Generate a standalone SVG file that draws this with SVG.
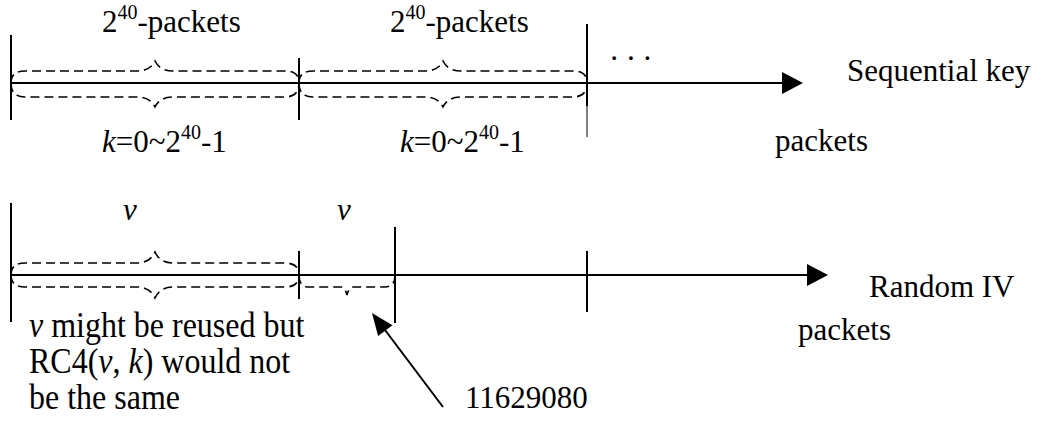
<svg xmlns="http://www.w3.org/2000/svg" width="1041" height="421" viewBox="0 0 1041 421">
<style>
  text { font-size: 31px; fill: #000; }
  .i { font-style: italic; }
  .sup { font-size: 20px; }
  .note { font-size: 32px; }
  .ax { stroke: #000; stroke-width: 2; fill: none; }
  .tk { stroke: #000; stroke-width: 2; fill: none; }
  .br { stroke: #000; stroke-width: 1.6; fill: none; stroke-dasharray: 9 5; }
  .ah { fill: #000; stroke: none; }
</style>
<rect width="1041" height="421" fill="#fff"/>

<g id="connectors">
  <line class="ax" x1="11" y1="83" x2="784" y2="83"/>
  <polygon class="ah" points="782,72 803,83 782,94"/>
  <line class="ax" x1="11" y1="275" x2="809" y2="275"/>
  <polygon class="ah" points="807,264 828,275 807,286"/>
  <line class="ax" x1="443" y1="407" x2="382" y2="326"/>
  <polygon class="ah" points="372,313 392.5,325.2 378.1,336"/>
</g>

<g id="top-ticks">
  <line class="tk" x1="11" y1="35" x2="11" y2="120"/>
  <line class="tk" x1="299" y1="58" x2="299" y2="120"/>
  <line class="tk" x1="587" y1="24" x2="587" y2="106"/>
  <line stroke="#000" stroke-width="1" x1="587" y1="106" x2="587" y2="137"/>
</g>

<g id="top-braces">
  <path class="br" d="M11,83 Q11,71 25,71 L137,71 Q150,71 155,61 Q160,71 173,71 L285,71 Q299,71 299,83"/>
  <path class="br" d="M11,83 Q11,97 25,97 L137,97 Q150,97 155,107 Q160,97 173,97 L285,97 Q299,97 299,83"/>
  <path class="br" d="M299,83 Q299,71 313,71 L425,71 Q438,71 443,61 Q448,71 461,71 L573,71 Q587,71 587,83"/>
  <path class="br" d="M299,83 Q299,97 313,97 L425,97 Q438,97 443,107 Q448,97 461,97 L573,97 Q587,97 587,83"/>
</g>

<g font-family="'Liberation Serif', Tinos, 'Times New Roman', 'DejaVu Serif', serif">
<g id="top-labels">
  <text x="102" y="32">2<tspan class="sup" dy="-13">40</tspan><tspan dy="13">-packets</tspan></text>
  <text x="390" y="32">2<tspan class="sup" dy="-13">40</tspan><tspan dy="13">-packets</tspan></text>
  <text x="102" y="152"><tspan class="i">k</tspan>=0~2<tspan class="sup" dy="-13">40</tspan><tspan dy="13">-1</tspan></text>
  <text x="400" y="152"><tspan class="i">k</tspan>=0~2<tspan class="sup" dy="-13">40</tspan><tspan dy="13">-1</tspan></text>
  <text x="609" y="69" letter-spacing="-0.7">· · ·</text>
  <text x="847" y="81">Sequential key</text>
  <text x="775" y="151">packets</text>
</g>
</g>

<g id="bottom-ticks">
  <line class="tk" x1="11" y1="203" x2="11" y2="322"/>
  <line class="tk" x1="299" y1="251" x2="299" y2="299"/>
  <line class="tk" x1="395" y1="227" x2="395" y2="323"/>
  <line class="tk" x1="587" y1="251" x2="587" y2="312"/>
</g>

<g id="bottom-braces">
  <path class="br" d="M11,275 Q11,263 25,263 L137,263 Q150,263 155,252 Q160,263 173,263 L285,263 Q299,263 299,275"/>
  <path class="br" d="M11,275 Q11,287 25,287 L137,287 Q150,287 155,298 Q160,287 173,287 L285,287 Q299,287 299,275"/>
  <path class="br" d="M299,275 Q299,287 309,287 L341,287 Q345,287 347,295 Q349,287 353,287 L385,287 Q395,287 395,275"/>
</g>

<g font-family="'Liberation Serif', Tinos, 'Times New Roman', 'DejaVu Serif', serif">
<g id="bottom-labels">
  <text class="i" x="123" y="220">v</text>
  <text class="i" x="337" y="220">v</text>
  <text x="869" y="297">Random IV</text>
  <text x="798" y="340">packets</text>
  <text x="465" y="408">11629080</text>
</g>

<g id="note">
  <text class="note" transform="translate(29,337) scale(1,1.13)"><tspan class="i">v</tspan> might be reused but</text>
  <text class="note" transform="translate(29,373) scale(1,1.13)">RC4(<tspan class="i">v</tspan>, <tspan class="i">k</tspan>) would not</text>
  <text class="note" transform="translate(29,409) scale(1,1.13)">be the same</text>
</g>
</g>
</svg>
